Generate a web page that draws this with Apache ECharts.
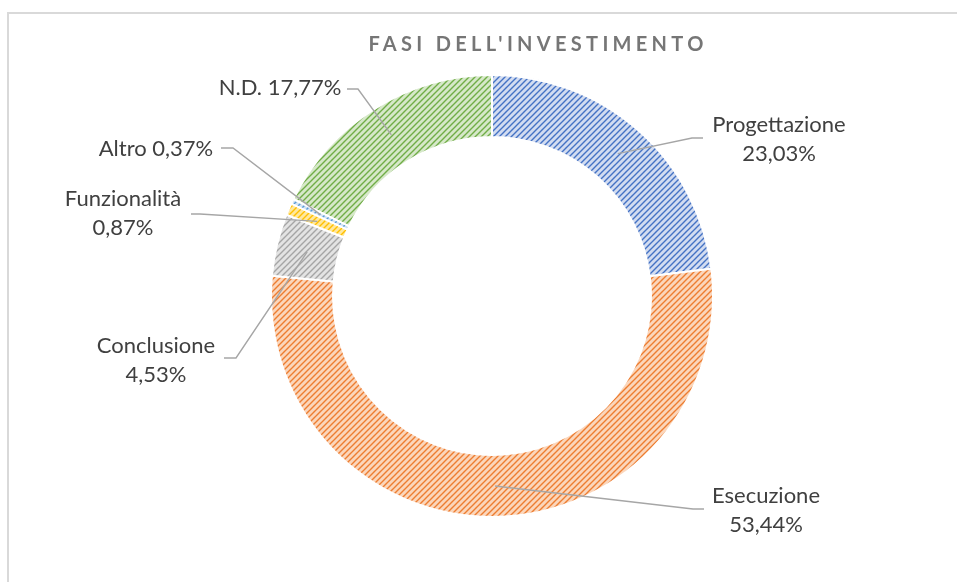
<!DOCTYPE html>
<html>
<head>
<meta charset="utf-8">
<script src="https://cdn.jsdelivr.net/npm/echarts@6/dist/echarts.min.js"></script>
<style>
  html, body { margin: 0; padding: 0; background: #fff; }
  #chart { width: 957px; height: 582px; }
</style>
</head>
<body>
<div id="chart"></div>
<script>
const chartTitle = "FASI DELL'INVESTIMENTO";
const phases = ['Progettazione', 'Esecuzione', 'Conclusione', 'Funzionalità', 'Altro', 'N.D.'];
const shares = [23.03, 53.44, 4.53, 0.87, 0.37, 17.77];
const oneLineLabels = ['Altro', 'N.D.'];

// colori: tratto e sfondo del tratteggio
const lineColors = ['#4472C4', '#ED7D31', '#A5A5A5', '#FFC000', '#5B9BD5', '#70AD47'];
const fillColors = ['#d2dcf1', '#fbd6bb', '#e3e3e3', '#ffe89e', '#d3e4f4', '#d6e8c9'];

// posizione etichette (centro) e gomito della linea
const labelPos = [[779, 139], [766, 510], [156, 360], [123, 213], [156, 149], [280, 88]];
const elbowPos = [[692, 138], [693, 509], [236, 358], [200, 214], [233, 148], [358, 89]];
const endPos = [[703, 138], [704, 509], [224, 358], [191, 214], [221, 148], [347, 89]];

const center = [492, 296];
const radius = [159, 221];
const midRadius = 190;

// letter-spacing solo per il titolo
const origFillText = CanvasRenderingContext2D.prototype.fillText;
CanvasRenderingContext2D.prototype.fillText = function (text, x, y, w) {
    if (text === chartTitle) {
        this.letterSpacing = '4.3px';
        const r = w === undefined ? origFillText.call(this, text, x, y) : origFillText.call(this, text, x, y, w);
        this.letterSpacing = '0px';
        return r;
    }
    return w === undefined ? origFillText.call(this, text, x, y) : origFillText.call(this, text, x, y, w);
};

function hatch(line, bg) {
    const c = document.createElement('canvas');
    c.width = 6; c.height = 6;
    const ctx = c.getContext('2d');
    ctx.fillStyle = bg;
    ctx.fillRect(0, 0, 6, 6);
    ctx.strokeStyle = line;
    ctx.lineWidth = 1.4;
    ctx.beginPath();
    ctx.moveTo(-1, 7); ctx.lineTo(7, -1);
    ctx.moveTo(-1, 1); ctx.lineTo(1, -1);
    ctx.moveTo(5, 7); ctx.lineTo(7, 5);
    ctx.stroke();
    return { image: c, repeat: 'repeat' };
}

const fmt = v => v.toFixed(2).replace('.', ',') + '%';

const chart = echarts.init(document.getElementById('chart'), null, { renderer: 'canvas', devicePixelRatio: 1 });

chart.setOption({
    animation: false,
    graphic: [
        {
            type: 'rect',
            shape: { x: 8, y: 13, width: 1200, height: 1200 },
            style: { fill: 'none', stroke: '#d9d9d9', lineWidth: 2 },
            silent: true
        },
        {
            type: 'text',
            x: 538,
            y: 45,
            style: {
                text: chartTitle,
                font: 'bold 20px Lato',
                fill: '#767676',
                textAlign: 'center',
                textVerticalAlign: 'middle'
            }
        }
    ],
    series: [
        {
            // anello tratteggiato
            type: 'pie',
            center: center,
            radius: radius,
            startAngle: 90,
            clockwise: true,
            silent: true,
            itemStyle: { borderColor: '#fff', borderWidth: 2 },
            label: { show: false },
            labelLine: { show: false },
            data: phases.map((name, i) => ({
                name: name,
                value: shares[i],
                itemStyle: { color: hatch(lineColors[i], fillColors[i]) }
            }))
        },
        {
            // solo etichette e linee guida, sopra l'anello
            type: 'pie',
            center: center,
            radius: radius,
            startAngle: 90,
            clockwise: true,
            silent: true,
            z: 5,
            avoidLabelOverlap: false,
            itemStyle: { color: 'rgba(0,0,0,0)', borderWidth: 0 },
            label: {
                show: true,
                position: 'outside',
                fontFamily: 'Lato',
                fontSize: 22,
                lineHeight: 29,
                color: '#404040',
                align: 'center',
                formatter: p => p.name + (oneLineLabels.includes(p.name) ? ' ' : '\n') + fmt(p.value)
            },
            labelLine: {
                show: true,
                length: 10,
                length2: 10,
                lineStyle: { color: '#a6a6a6', width: 1.4 }
            },
            labelLayout: function (params) {
                const i = params.dataIndex;
                const p0 = params.labelLinePoints[0];
                const ang = Math.atan2(p0[1] - center[1], p0[0] - center[0]);
                const start = [center[0] + midRadius * Math.cos(ang), center[1] + midRadius * Math.sin(ang)];
                return {
                    x: labelPos[i][0],
                    y: labelPos[i][1],
                    align: 'center',
                    verticalAlign: 'middle',
                    labelLinePoints: [start, elbowPos[i], endPos[i]]
                };
            },
            data: phases.map((name, i) => ({ name: name, value: shares[i] }))
        }
    ]
});
</script>
</body>
</html>
